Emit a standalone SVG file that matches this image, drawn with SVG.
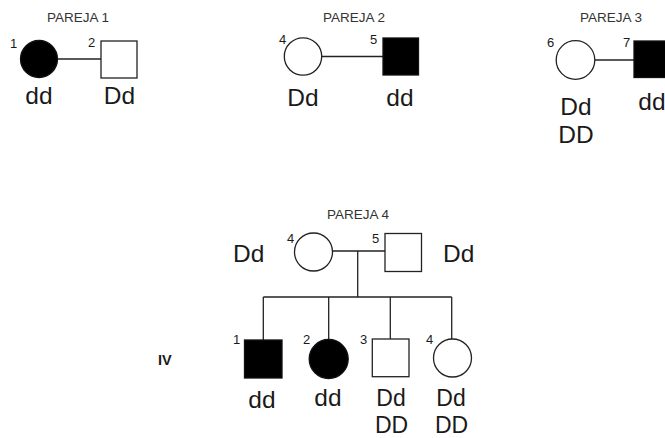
<svg xmlns="http://www.w3.org/2000/svg" width="665" height="438" viewBox="0 0 665 438">
<style>
.ln{stroke:#222;stroke-width:1.3;fill:none}
.o{fill:#fff;stroke:#222;stroke-width:1.3}
.f{fill:#000;stroke:#111;stroke-width:1.3}
.t{font-family:"Liberation Sans",Arial,sans-serif;fill:#1a1a1a}
.g{font-size:24.5px;text-anchor:middle}
.s{font-size:23px;text-anchor:middle}
.n{font-size:13px}
.h{font-size:13.5px;text-anchor:middle;fill:#333}
</style>
<rect width="665" height="438" fill="#fff"/>
<g id="connectors">
<line class="ln" x1="57" y1="59" x2="101" y2="59"/>
<line class="ln" x1="322" y1="56.5" x2="383" y2="56.5"/>
<line class="ln" x1="595" y1="60" x2="634" y2="60"/>
<line class="ln" x1="333" y1="251" x2="385" y2="251"/>
<line class="ln" x1="357.7" y1="251" x2="357.7" y2="297"/>
<line class="ln" x1="263.3" y1="297" x2="451.7" y2="297"/>
<line class="ln" x1="263.3" y1="297" x2="263.3" y2="340"/>
<line class="ln" x1="328.7" y1="297" x2="328.7" y2="339.5"/>
<line class="ln" x1="390.3" y1="297" x2="390.3" y2="339"/>
<line class="ln" x1="451.7" y1="297" x2="451.7" y2="339"/>
</g>
<g id="titles">
<text class="t h" x="78" y="22">PAREJA 1</text>
<text class="t h" x="354" y="22">PAREJA 2</text>
<text class="t h" x="611" y="22">PAREJA 3</text>
<text class="t h" x="358" y="219">PAREJA 4</text>
<text class="t" x="158" y="365" font-size="14.5" font-weight="bold">IV</text>
</g>
<g id="p1-1"><circle class="f" cx="39" cy="59" r="18.5"/><text class="t n" x="10" y="48">1</text><text class="t g" x="39" y="104">dd</text></g>
<g id="p1-2"><rect class="o" x="101" y="41" width="36" height="37"/><text class="t n" x="88" y="47">2</text><text class="t g" x="119.5" y="104">Dd</text></g>
<g id="p2-4"><circle class="o" cx="303" cy="56.5" r="18.7"/><text class="t n" x="279" y="44">4</text><text class="t g" x="303" y="106">Dd</text></g>
<g id="p2-5"><rect class="f" x="383" y="38" width="35.5" height="37"/><text class="t n" x="370" y="44">5</text><text class="t g" x="400" y="106">dd</text></g>
<g id="p3-6"><circle class="o" cx="575.5" cy="60" r="19.3"/><text class="t n" x="547" y="47">6</text><text class="t g" x="576" y="115">Dd</text><text class="t g" x="576" y="143">DD</text></g>
<g id="p3-7"><rect class="f" x="634" y="41" width="36" height="36.5"/><text class="t n" x="623" y="47">7</text><text class="t g" x="652" y="110">dd</text></g>
<g id="p4-4"><circle class="o" cx="313.5" cy="252" r="19"/><text class="t n" x="287" y="243">4</text><text class="t" x="233" y="262" font-size="24.5">Dd</text></g>
<g id="p4-5"><rect class="o" x="385" y="233.5" width="36.5" height="38"/><text class="t n" x="372" y="243">5</text><text class="t" x="443" y="262" font-size="24.5">Dd</text></g>
<g id="iv-1"><rect class="f" x="244.5" y="340" width="37.5" height="38"/><text class="t n" x="233" y="344">1</text><text class="t g" x="262" y="408">dd</text></g>
<g id="iv-2"><circle class="f" cx="328.7" cy="359" r="19.5"/><text class="t n" x="303" y="344">2</text><text class="t g" x="328" y="406">dd</text></g>
<g id="iv-3"><rect class="o" x="372.3" y="339" width="36.7" height="37.7"/><text class="t n" x="360" y="344">3</text><text class="t s" x="391" y="406">Dd</text><text class="t s" x="391.5" y="433">DD</text></g>
<g id="iv-4"><circle class="o" cx="452.5" cy="358" r="19"/><text class="t n" x="426" y="344">4</text><text class="t s" x="451" y="406">Dd</text><text class="t s" x="451.5" y="433">DD</text></g>
</svg>
